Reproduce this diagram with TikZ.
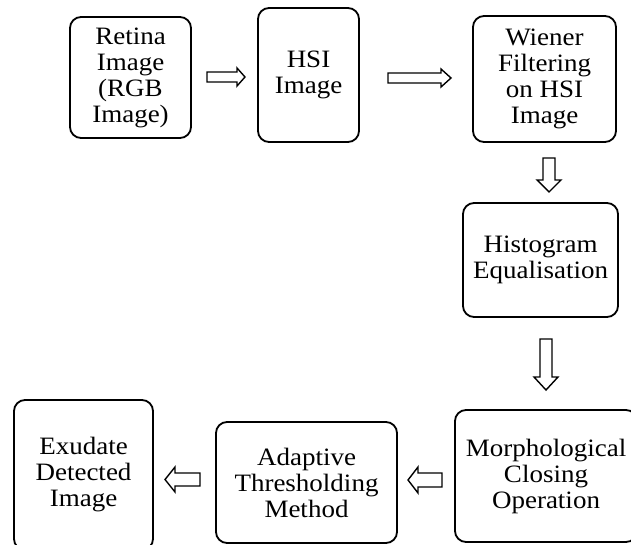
\documentclass[tikz,border=0pt]{standalone}
\usepackage{fontspec}
\setmainfont[FakeStretch=1.08]{Liberation Serif}
\begin{document}
\begin{tikzpicture}[x=1pt,y=-1pt,
  box/.style={draw, line width=1.8pt, rounded corners=11pt, align=center, inner sep=0pt,
    font=\fontsize{25}{26}\selectfont},
  blk/.style={draw, line width=1.4pt, fill=white, line join=miter},
  pics/blockarrow/.style args={#1/#2/#3/#4}{code={
    \draw[blk] (0,-#2) -- (#1-#4,-#2) -- (#1-#4,-#3) -- (#1,0) -- (#1-#4,#3) -- (#1-#4,#2) -- (0,#2) -- cycle;}}]
\clip (0,0) rectangle (631,545);
\fill[white] (0,0) rectangle (631,545);
% boxes
\node[box, minimum width=121pt, minimum height=121pt] (b1) at (130.5,77.5) {Retina\\Image\\(RGB\\Image)};
\node[box, minimum width=101pt, minimum height=134pt] (b2) at (308.5,75) {HSI\\Image};
\node[box, minimum width=143pt, minimum height=126pt] (b3) at (544.5,79) {Wiener\\Filtering\\on HSI\\Image};
\node[box, minimum width=155pt, minimum height=114pt] (b4) at (540.5,260) {Histogram\\Equalisation};
\node[box, minimum width=182pt, minimum height=132pt] (b5) at (546,476) {Morphological\\Closing\\Operation};
\node[box, minimum width=181pt, minimum height=121pt] (b6) at (306.5,482.5) {Adaptive\\Thresholding\\Method};
\node[box, minimum width=139pt, minimum height=150pt] (b7) at (83.5,475) {Exudate\\Detected\\Image};
% block arrows
\coordinate (t1) at (207,77);
\coordinate (t2) at (388,78);
\coordinate (t3) at (549,158);
\coordinate (t4) at (546,339);
\coordinate (t5) at (442,480);
\coordinate (t6) at (200,479.5);
\pic at (t1) {blockarrow=38/5/9/8};
\pic at (t2) {blockarrow=63/5/9/10};
\pic[rotate=-90] at (t3) {blockarrow=34/6/12/12};
\pic[rotate=-90] at (t4) {blockarrow=51/6/12/13};
\pic[rotate=180] at (t5) {blockarrow=34/7/13/10};
\pic[rotate=180] at (t6) {blockarrow=35/6.5/12.5/10};
\end{tikzpicture}
\end{document}
